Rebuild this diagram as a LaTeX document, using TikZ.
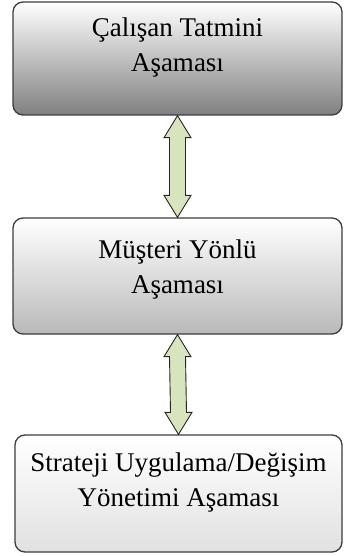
\documentclass[tikz,border=0pt]{standalone}
\usepackage{fontspec}
\setmainfont{Liberation Serif}
\usepackage{tikz}
\usetikzlibrary{calc}
\usetikzlibrary{positioning}
\definecolor{boxline}{RGB}{60, 60, 60}
\definecolor{darkbottom}{RGB}{128, 128, 128}
\definecolor{midbottom}{RGB}{185, 185, 185}
\definecolor{lightbottom}{RGB}{225, 225, 225}
\definecolor{sage}{RGB}{215, 228, 189}

\tikzset{
    stagebox/.style={draw=boxline, line width=1.3pt, rounded corners=10pt, top color=white,
        minimum width=329pt, minimum height=115pt, inner sep=0pt, align=center,
        font=\fontsize{27}{35}\selectfont, text depth=27pt},
    dblarrow/.style={draw=black!85, line width=0.9pt, fill=sage, line join=miter}
}

\begin{document}
\begin{tikzpicture}[x=1pt, y=-1pt]
            \useasboundingbox (0,0) rectangle (343,556);
            \node[stagebox, bottom color=darkbottom,  minimum height=113pt] (calisan)  at (177.5, 58.5)  {Çalışan Tatmini\\Aşaması};
            \node[stagebox, bottom color=midbottom,   minimum height=116pt, text depth=19pt] (musteri) at (177.5, 276) {Müşteri Yönlü\\Aşaması};
            \node[stagebox, bottom color=lightbottom, minimum height=117pt, minimum width=327pt] (strateji) at (178.5, 493.5) {Strateji Uygulama/Değişim\\Yönetimi Aşaması};
            % cift yonlu oklar
            \foreach \a/\b in {calisan/musteri, musteri/strateji}
                \draw[dblarrow] (\a.south) -- ++(13.5,22) -- ++(-5.5,0) -- ($(\b.north)+(8,-22)$) -- ++(5.5,0)
                    -- (\b.north) -- ++(-13.5,-22) -- ++(5.5,0) -- ($(\a.south)+(-8,22)$) -- ++(-5.5,0) -- cycle;
        \end{tikzpicture}
\end{document}
